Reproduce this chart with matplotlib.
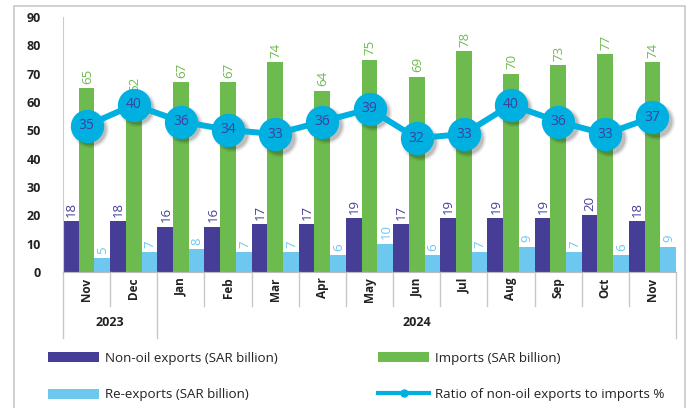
import matplotlib
matplotlib.use("Agg")
import matplotlib.pyplot as plt
import matplotlib.transforms as mtransforms
from matplotlib.patches import Rectangle
from matplotlib.lines import Line2D
import numpy as np

plt.rcParams['font.family'] = ['Open Sans', 'DejaVu Sans']

months = ["Nov", "Dec", "Jan", "Feb", "Mar", "Apr", "May", "Jun", "Jul", "Aug", "Sep", "Oct", "Nov"]
years = ["2023", "2024"]
year_counts = [2, 11]
non_oil = [18, 18, 16, 16, 17, 17, 19, 17, 19, 19, 19, 20, 18]
imports = [65, 62, 67, 67, 74, 64, 75, 69, 78, 70, 73, 77, 74]
re_exports = [5, 7, 8, 7, 7, 6, 10, 6, 7, 9, 7, 6, 9]
ratio = [35, 40, 36, 34, 33, 36, 39, 32, 33, 40, 36, 33, 37]

C_NON = "#463E96"
C_IMP = "#6DBB4F"
C_RE = "#6EC7EF"
C_LINE = "#00B0E0"
C_TXT = "#3F3F9F"

W, H = 691, 408
fig = plt.figure(figsize=(W / 100, H / 100), dpi=100)
# outer frame
fig.add_artist(Rectangle((14 / W, -0.01), (685 - 14) / W, (H - 6) / H + 0.01,
                         transform=fig.transFigure, fill=False, edgecolor="#C8C8C8", lw=1.2))

ax = fig.add_axes([63 / W, 1 - 272 / H, (676 - 63) / W, (272 - 17) / H])
x = np.arange(len(months))
bw = 1 / 3
b1 = ax.bar(x - bw, non_oil, bw, color=C_NON, label="Non-oil exports (SAR billion)")
b2 = ax.bar(x, imports, bw, color=C_IMP, label="Imports (SAR billion)")
b3 = ax.bar(x + bw, re_exports, bw, color=C_RE, label="Re-exports (SAR billion)")

for bars, vals, col in [(b1, non_oil, C_NON), (b2, imports, C_IMP), (b3, re_exports, C_RE)]:
    for r, v in zip(bars, vals):
        ax.annotate(f"{v}", (r.get_x() + r.get_width() / 2, r.get_height()),
                    xytext=(0.5, 3), textcoords="offset points", rotation=90,
                    ha="center", va="bottom", color=col, fontsize=9.5)

ax.set_xlim(-0.5, len(months) - 0.5)
ax.set_ylim(0, 90)
ax.set_yticks(range(0, 91, 10))
ax.tick_params(axis="y", length=0, pad=16, labelsize=9)
for t in ax.get_yticklabels():
    t.set_fontweight("bold")
    t.set_color("#222222")
ax.set_xticks(x)
ax.set_xticklabels(months, rotation=90, fontsize=8.5, fontweight="bold", color="#222222")
ax.tick_params(axis="x", length=0, pad=4)
for s in ["top", "right"]:
    ax.spines[s].set_visible(False)
ax.spines["left"].set_color("#CCCCCC")
ax.spines["bottom"].set_color("#BBBBBB")

# category separators
trans = ax.get_xaxis_transform()
bounds = np.cumsum([0] + year_counts) - 0.5
for b in np.arange(len(months) + 1) - 0.5:
    long = b in bounds
    ax.plot([b, b], [0, -0.259 if long else -0.133], transform=trans,
            color="#C8C8C8", lw=1, clip_on=False)
for yl, s, n in zip(years, bounds[:-1], year_counts):
    ax.text(s + n / 2, -0.2, yl, transform=trans, ha="center", va="center",
            fontsize=9, fontweight="bold", color="#222222")

ax2 = ax.twinx()
ax2.set_ylim(0, 61)
# soft shadow under markers
for k, (ms, a) in enumerate([(27, 0.06), (25, 0.09), (23, 0.13)]):
    sh = mtransforms.offset_copy(ax2.transData, fig=fig, x=2.5, y=-2.5, units="points")
    ax2.plot(x, ratio, linestyle="none", marker="o", markersize=ms,
             markerfacecolor="black", markeredgecolor="none", alpha=a, transform=sh)
ln, = ax2.plot(x, ratio, color=C_LINE, lw=4.3, marker="o", markersize=23,
               markerfacecolor=C_LINE, markeredgecolor=C_LINE,
               label="Ratio of non-oil exports to imports %")
for xi, v in zip(x, ratio):
    ax2.text(xi, v, f"{v}", ha="center", va="center", color=C_TXT, fontsize=10)
ax2.axis("off")

leg_line = Line2D([0], [0], color=C_LINE, lw=3, marker="o", markersize=5)
fig.legend([b1, b3, b2, leg_line],
           ["Non-oil exports (SAR billion)", "Re-exports (SAR billion)",
            "Imports (SAR billion)", "Ratio of non-oil exports to imports %"],
           ncol=2, loc="upper left", bbox_to_anchor=(36 / W, 1 - 340 / H),
           frameon=False, fontsize=9.6, handlelength=3.85, handleheight=0.8,
           labelspacing=1.75, columnspacing=7.5, handletextpad=0.45,
           labelcolor="#222222")

fig.savefig("out.png", dpi=100)
